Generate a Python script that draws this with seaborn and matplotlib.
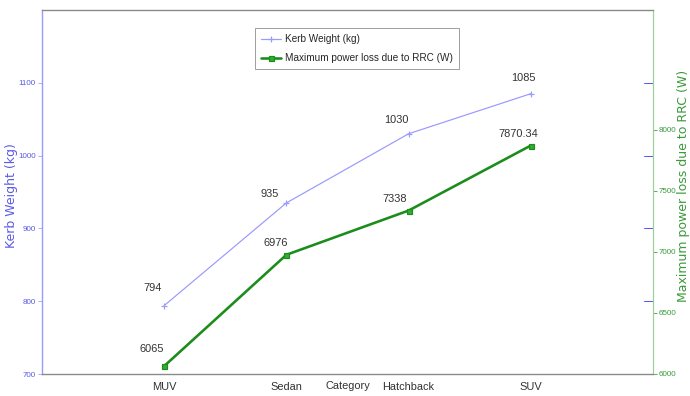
import matplotlib
matplotlib.use("Agg")
import matplotlib.pyplot as plt
import seaborn as sns
import pandas as pd

# Data
categories = ["MUV", "Sedan", "Hatchback", "SUV"]
kerb_weight = [794, 935, 1030, 1085]
power_loss = [6065, 6976, 7338, 7870.34]
kerb_labels = ["794", "935", "1030", "1085"]
power_labels = ["6065", "6976", "7338", "7870.34"]
left_ticks = [700, 800, 900, 1000, 1100]
right_ticks = [6000, 6500, 7000, 7500, 8000]

BLUE_LINE = "#9a9aff"
BLUE_TXT = "#5a5ae6"
GREEN_LINE = "#1c8c1c"
GREEN_TXT = "#3a9a3a"
GRAY = "#8a8a8a"

sns.set_style("white")
plt.rcParams["font.family"] = ["Liberation Sans Narrow", "Liberation Sans", "DejaVu Sans"]

df = pd.DataFrame({
    "pos": range(1, len(categories) + 1),
    "category": categories,
    "kerb": kerb_weight,
    "power": power_loss,
})

fig = plt.figure(figsize=(690 / 72, 396 / 72), dpi=72)
ax = fig.add_axes([42 / 690, 1 - 374 / 396, 611 / 690, 364 / 396])
ax2 = ax.twinx()

sns.lineplot(data=df, x="pos", y="kerb", ax=ax, color=BLUE_LINE, lw=1.2,
             marker="+", markersize=6, markeredgewidth=1.2, markeredgecolor=BLUE_LINE,
             label="Kerb Weight (kg)", legend=False)
sns.lineplot(data=df, x="pos", y="power", ax=ax2, color=GREEN_LINE, lw=2.6,
             marker="s", markersize=5, markerfacecolor="#2fae2f", markeredgecolor=GREEN_LINE,
             markeredgewidth=1.2, label="Maximum power loss due to RRC (W)", legend=False)

# value labels
kerb_off = [(-12, 18), (-17, 9), (-12, 14), (-7, 16)]
power_off = [(-12, 17), (-11, 12), (-14, 12), (-13, 12)]
for x, y, t, o in zip(df["pos"], kerb_weight, kerb_labels, kerb_off):
    ax.annotate(t, (x, y), xytext=o, textcoords="offset points", ha="center",
                va="center", fontsize=11, color="#333333")
for x, y, t, o in zip(df["pos"], power_loss, power_labels, power_off):
    ax2.annotate(t, (x, y), xytext=o, textcoords="offset points", ha="center",
                 va="center", fontsize=11, color="#333333")

ax.set_xlim(0, 5)
ax.set_ylim(700, 1200)
ax2.set_ylim(6000, 8980)
ax.set_xticks(df["pos"])
ax.set_xticklabels(categories, fontsize=11, color="#333333")
ax.set_yticks(left_ticks)
ax.set_yticklabels([str(v) for v in left_ticks], fontsize=8, color=BLUE_TXT)
ax2.set_yticks(right_ticks)
ax2.set_yticklabels([str(v) for v in right_ticks], fontsize=8, color=GREEN_TXT)

ax.tick_params(axis="x", direction="in", length=8, color=GRAY, pad=8)
ax.tick_params(axis="y", direction="out", length=4, color=BLUE_LINE, pad=2)
ax2.tick_params(axis="y", direction="out", length=4, color=GREEN_TXT, pad=2)

# blue tick marks mirrored on the right side (left-axis scale)
for v in left_ticks[1:]:
    ax.plot([4.93, 5.0], [v, v], color=BLUE_TXT, lw=1, clip_on=False)

ax.set_xlabel("Category", fontsize=11, color="#333333")
ax.xaxis.set_label_coords(0.5, -0.018)
ax.set_ylabel("Kerb Weight (kg)", fontsize=12.5, color=BLUE_TXT, family="DejaVu Sans")
ax.yaxis.set_label_coords(-0.039, 0.49)
ax2.set_ylabel("Maximum power loss due to RRC (W)", fontsize=12.5, color=GREEN_TXT,
               family="DejaVu Sans")
ax2.yaxis.set_label_coords(1.04, 0.516)

for side in ["top", "bottom"]:
    ax.spines[side].set_color(GRAY)
    ax2.spines[side].set_color(GRAY)
ax.spines["left"].set_color(BLUE_LINE)
ax2.spines["left"].set_color(BLUE_LINE)
ax2.spines["right"].set_color("#9ccf9c")
ax.spines["right"].set_visible(False)
for s in ax.spines.values():
    s.set_linewidth(1.2)
for s in ax2.spines.values():
    s.set_linewidth(1.2)

h1, l1 = ax.get_legend_handles_labels()
h2, l2 = ax2.get_legend_handles_labels()
leg = ax2.legend(h1 + h2, l1 + l2, loc="upper left", bbox_to_anchor=(0.349, 0.95),
                 borderaxespad=0, fontsize=10, frameon=True, fancybox=False,
                 edgecolor=GRAY, handlelength=2.0, handletextpad=0.4,
                 borderpad=0.6, labelspacing=0.9)
leg.get_frame().set_linewidth(1)

fig.savefig("out.png", dpi=72)
